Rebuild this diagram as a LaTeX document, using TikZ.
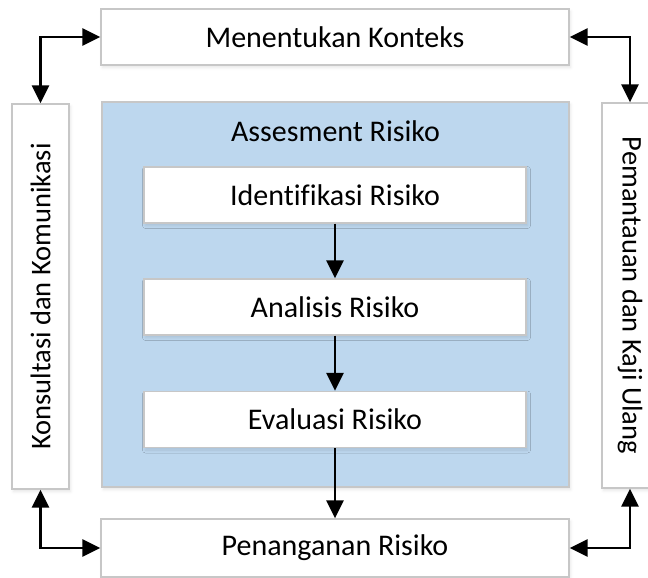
\documentclass[tikz,border=0pt]{standalone}
\usepackage{fontspec}
\usepackage{graphicx}
\setmainfont{Carlito}[Ligatures=NoCommon]
\usetikzlibrary{arrows.meta,shadows.blur}

\tikzset{
  softshadow/.style={blur shadow={shadow xshift=1.5pt, shadow yshift=-2.5pt,
      shadow blur radius=3pt, shadow opacity=10}},
  box/.style={draw=black!22, line width=1.3pt, fill=white, inner sep=0pt,
    softshadow, font=\fontsize{30}{34}\selectfont},
  sidebox/.style={box, font=\fontsize{28.5}{32}\selectfont},
  panel/.style={draw=black!22, line width=1.3pt,
    fill={rgb,255:red,189;green,215;blue,238}, inner sep=0pt, softshadow},
  flow/.style={line width=2.5pt, -{Triangle[length=18pt,width=17pt]}},
  link/.style={line width=2.5pt,
    {Triangle[length=18pt,width=17pt]}-{Triangle[length=18pt,width=17pt]}},
  label/.style={font=\fontsize{30}{34}\selectfont, inner sep=0pt}
}

\begin{document}
\begin{tikzpicture}[x=1pt,y=-1pt]
\useasboundingbox (0,0) rectangle (648,578);

% outer frame of the process
\node[box, minimum width=468pt, minimum height=56pt] (ctx) at (335,37) {Menentukan Konteks};
\node[box, minimum width=468pt, minimum height=58pt] (treat) at (335,548) {Penanganan Risiko};
\node[sidebox, minimum width=57pt, minimum height=385pt] (comm) at (40.5,296.5)
  {\rotatebox{90}{Konsultasi dan Komunikasi}};
\node[sidebox, minimum width=56pt, minimum height=385pt] (mon) at (630,295.5)
  {\rotatebox{-90}{Pemantauan dan Kaji Ulang}};

% assessment block
\node[panel, minimum width=467pt, minimum height=385pt] (assess) at (335.5,294.5) {};
\node[label] (title) at (335.5,131) {Assesment Risiko};
\node[box, minimum width=382pt, minimum height=56pt] (ident) at (335,195) {Identifikasi Risiko};
\node[box, minimum width=382pt, minimum height=56pt] (anal) at (335,307) {Analisis Risiko};
\node[box, minimum width=382pt, minimum height=56pt] (eval) at (335,419.5) {Evaluasi Risiko};

% flow through the assessment
\draw[flow] (ident.south) -- (anal.north);
\draw[flow] (anal.south) -- (eval.north);
\draw[flow] (eval.south) -- (treat.north);

% two-way links to the side activities
\draw[link] (comm.north) |- (ctx.west);
\draw[link] (mon.north) |- (ctx.east);
\draw[link] (comm.south) |- (treat.west);
\draw[link] (mon.south) |- (treat.east);
\end{tikzpicture}
\end{document}
